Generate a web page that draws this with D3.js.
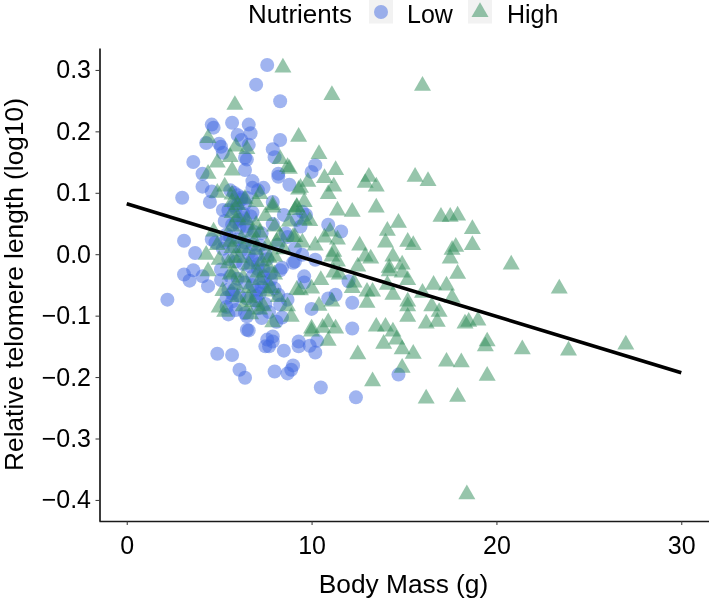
<!DOCTYPE html>
<html><head><meta charset="utf-8">
<script src="https://cdn.jsdelivr.net/npm/d3@7"></script>
<style>html,body{margin:0;padding:0;background:#fff}svg{display:block;filter:blur(0.45px)}text{font-family:"Liberation Sans",Arial,sans-serif;fill:#000}</style>
</head><body><svg id="c" width="709" height="600"></svg>
<script>
const xTicks=[0,10,20,30];
const yTicks=[-0.4,-0.3,-0.2,-0.1,0,0.1,0.2,0.3];
const trendMass=[0,30];
const trendTelomere=[0.082,-0.193];
const lowMass=[7.6,7.0,8.3,4.6,4.7,5.7,6.6,6.7,6.0,6.2,4.3,5.0,5.1,6.6,8.3,7.9,8.0,5.2,3.6,6.4,6.5,6.4,4.1,8.2,8.2,8.8,6.8,4.1,4.6,3.0,4.5,6.8,7.4,7.1,7.9,6.5,6.0,5.2,
3.1,3.7,3.1,3.6,3.4,4.1,4.4,2.2,4.9,5.7,6.1,6.4,8.0,8.7,8.9,9.0,8.5,7.5,7.7,7.9,7.6,7.9,6.6,6.5,5.5,6.5,7.3,8.3,8.7,8.4,8.1,9.3,9.3,5.4,5.8,5.7,5.5,5.1,5.1,4.8,4.6,5.3,6.1,5.9,6.3,6.5,6.8,7.1,7.4,6.8,7.0,7.2,7.4,7.7,7.0,7.4,7.8,8.4,8.3,9.0,8.7,8.6,8.2,9.1,9.5,
10.2,10.0,9.5,9.7,9.2,9.4,10.9,11.6,10.2,9.1,9.6,9.6,12.0,12.2,11.3,10.9,10.0,12.2,10.3,9.9,10.2,10.5,12.4,14.7,
5.6,5.8,6.0,6.2,6.4,5.5,5.9,6.3,6.7,5.3,5.7,6.1,6.5,6.9,5.4,5.6,6.0,6.4,6.8,7.2,5.2,5.8,6.2,6.6,7.0,7.5,5.5,5.9,6.3,6.7,7.1,7.6,5.6,6.0,6.4,6.8,7.3,7.8,5.7,6.1,6.5,7.0,7.5,8.0,5.4,5.9,6.4,7.1,7.7,8.2,5.8,6.2,6.8,7.3,7.9,8.5];
const lowTelomere=[0.308,0.276,0.249,0.211,0.206,0.214,0.211,0.197,0.194,0.186,0.181,0.18,0.175,0.178,0.186,0.171,0.158,0.165,0.15,0.157,0.154,0.137,0.131,0.131,0.126,0.113,0.119,0.11,0.102,0.092,0.085,0.108,0.108,0.104,0.085,0.092,0.08,0.072,
0.022,0.002,-0.033,-0.026,-0.043,-0.036,-0.052,-0.074,-0.162,-0.164,-0.188,-0.201,-0.191,-0.194,-0.188,-0.181,-0.157,-0.15,-0.15,-0.142,-0.139,-0.134,-0.124,-0.123,-0.098,-0.101,-0.104,-0.082,-0.074,-0.103,-0.11,-0.142,-0.15,-0.071,-0.058,-0.077,-0.058,-0.042,-0.025,0.019,0.024,0.02,0.056,0.052,0.059,0.046,-0.009,-0.016,-0.026,-0.036,-0.058,-0.064,-0.046,-0.053,-0.068,-0.036,-0.041,-0.022,-0.026,-0.014,0.028,0.034,0.016,0.009,-0.001,
0.145,0.134,0.069,0.064,0.056,0.045,0.048,0.037,-0.009,-0.012,-0.036,-0.046,-0.044,-0.079,-0.066,-0.072,-0.089,-0.121,-0.141,-0.149,-0.16,-0.217,-0.233,-0.196,
0.104,0.1,0.096,0.089,0.082,0.072,0.074,0.066,0.062,0.054,0.048,0.044,0.04,0.036,0.032,0.028,0.024,0.019,0.016,0.014,0.009,0.012,0.006,0.001,-0.002,0.002,-0.008,-0.012,-0.016,-0.02,-0.024,-0.008,-0.036,-0.04,-0.046,-0.05,-0.054,-0.031,-0.064,-0.068,-0.072,-0.076,-0.081,-0.056,-0.086,-0.091,-0.096,-0.088,-0.094,-0.066,0.079,0.092,0.068,0.034,0.049,0.064];
const highMass=[8.45,5.85,4.4,5.9,6.5,5.6,4.9,8.3,8.7,5.7,4.4,5.3,4.9,7.2,5.7,9.3,9.2,7.9,6.0,
5.7,7.9,9.1,5.7,8.8,8.0,5.7,4.7,7.2,6.8,9.0,8.1,4.9,5.7,6.3,7.0,4.3,5.0,5.8,7.7,6.6,7.7,4.4,5.8,5.6,6.3,8.0,7.2,7.6,9.2,6.6,5.0,6.3,5.3,7.2,6.7,7.9,8.7,8.9,
11.1,16.0,9.3,10.4,11.3,10.7,9.8,9.4,11.2,10.9,13.1,12.9,13.5,15.6,16.3,9.6,11.4,12.2,13.5,17.0,17.5,17.9,14.7,14.1,18.7,14.0,18.7,17.8,17.6,17.5,15.2,15.5,12.6,12.9,13.2,14.4,14.9,14.2,20.8,11.0,10.7,11.4,10.2,9.5,9.1,11.2,11.1,11.4,12.5,8.8,9.2,9.6,9.9,
17.9,17.3,16.6,17.6,16.0,14.9,15.2,14.2,14.4,14.1,13.0,13.3,13.0,15.2,15.2,15.2,16.5,16.9,16.8,16.2,18.3,18.5,19.0,19.5,19.4,21.4,19.5,18.1,17.3,17.9,16.2,18.4,15.5,14.9,14.9,13.3,12.5,13.9,14.6,14.4,14.0,13.5,10.9,11.3,10.9,10.6,10.0,10.0,11.1,10.4,9.4,10.0,10.5,11.2,11.5,12.2,12.3,23.4,23.9,27.0,
6.0,6.5,7.0,7.5,6.2,6.9,7.6,8.3,5.5,6.1,7.3,8.0,8.5,5.9,6.6,7.1,7.8,5.2,6.0,6.8,7.4,8.2,6.4,7.0,5.6];
const highTelomere=[0.304,0.243,0.189,0.175,0.171,0.158,0.149,0.155,0.142,0.136,0.131,0.11,0.1,0.098,0.097,0.105,0.077,0.08,0.08,
0.085,0.076,0.072,0.067,0.053,0.045,0.045,0.037,0.035,0.035,0.028,0.02,0.015,0.01,0.01,0.007,-0.001,-0.009,-0.006,-0.006,-0.017,-0.022,-0.028,-0.03,-0.033,-0.038,-0.033,-0.042,-0.061,-0.058,-0.071,-0.087,-0.085,-0.094,-0.09,-0.098,-0.111,-0.085,-0.102,
0.259,0.274,0.191,0.163,0.137,0.124,0.118,0.108,0.11,0.098,0.126,0.116,0.11,0.126,0.119,0.085,0.071,0.069,0.076,0.061,0.061,0.063,0.051,0.038,0.041,0.019,0.015,0.012,0.007,-0.007,0.02,0.015,0.014,-0.004,-0.007,-0.004,-0.017,-0.022,-0.017,0.037,0.027,0.024,0.014,0.019,0.028,0.004,-0.004,-0.012,-0.02,0.139,0.076,0.056,0.054,
-0.032,-0.051,-0.05,-0.071,-0.063,-0.03,-0.042,-0.028,-0.066,-0.05,-0.061,-0.061,-0.079,-0.077,-0.085,-0.102,-0.085,-0.094,-0.11,-0.113,-0.113,-0.11,-0.108,-0.142,-0.15,-0.155,-0.198,-0.176,-0.175,-0.232,-0.235,-0.391,-0.162,-0.155,-0.185,-0.207,-0.163,-0.146,-0.139,-0.126,-0.118,-0.118,-0.141,-0.121,-0.111,-0.12,-0.121,-0.126,-0.077,-0.084,-0.059,-0.056,-0.042,-0.03,-0.033,-0.055,-0.046,-0.056,-0.157,-0.147,
0.06,0.055,0.048,0.062,0.025,0.02,0.014,0.03,-0.015,-0.006,-0.012,-0.004,0.008,-0.05,-0.055,-0.03,-0.055,-0.06,-0.07,-0.078,-0.085,-0.07,0.09,0.085,0.02];

const svg=d3.select("#c");
const x=d3.scaleLinear().domain([-1.5,31.5]).range([99,709]);
const y=d3.scaleLinear().domain([-0.4343,0.3357]).range([521,48]);
const blue="#4169e1",green="#2e8b57";
const tri=d3.symbol().type(d3.symbolTriangle).size(125);

svg.append("g").selectAll("circle").data(lowMass).join("circle")
 .attr("cx",d=>x(d)).attr("cy",(d,i)=>y(lowTelomere[i])).attr("r",7)
 .attr("fill",blue).attr("fill-opacity",0.5);
svg.append("g").selectAll("path").data(highMass).join("path")
 .attr("d",tri).attr("transform",(d,i)=>`translate(${x(d)},${y(highTelomere[i])})`)
 .attr("fill",green).attr("fill-opacity",0.5);

svg.append("path").attr("d",d3.line().x(d=>x(d)).y((d,i)=>y(trendTelomere[i]))(trendMass))
 .attr("fill","none").attr("stroke","#000").attr("stroke-width",3.6);

const ax=svg.append("g").attr("transform","translate(0,521)").call(d3.axisBottom(x).tickValues(xTicks).tickFormat(d3.format("d")).tickSize(4).tickSizeOuter(0));
const ay=svg.append("g").attr("transform","translate(99.5,0)").call(d3.axisLeft(y).tickValues(yTicks).tickFormat(d=>d3.format(".1f")(d).replace("-","\u2212")).tickSize(4).tickSizeOuter(0));
[ax,ay].forEach(g=>{g.select("path").attr("stroke","#1a1a1a").attr("stroke-width",1.7);
 g.selectAll("line").attr("stroke","#333").attr("stroke-width",1);
 g.selectAll("text").style("font-size","25px").attr("fill","#000");});
ax.selectAll("text").attr("y",33).attr("dy",0);
ay.selectAll("text").attr("x",-8.5);

svg.append("text").attr("x",403.5).attr("y",593).attr("text-anchor","middle").style("font-size","26.3px").text("Body Mass (g)");
svg.append("text").attr("transform","translate(22.7,284.5) rotate(-90)").attr("text-anchor","middle").attr("textLength",373).attr("lengthAdjust","spacingAndGlyphs").style("font-size","25px").text("Relative telomere length (log10)");

const legend=svg.append("g");
const legendLabels=["Low","High"];
const keyX=[369,468],labelX=[407,507];
legend.append("text").attr("x",248).attr("y",22.7).attr("textLength",104).attr("lengthAdjust","spacingAndGlyphs").style("font-size","25px").text("Nutrients");
legend.selectAll("rect").data(legendLabels).join("rect").attr("x",(d,i)=>keyX[i]).attr("y",0).attr("width",24).attr("height",23.5).attr("fill","#f2f2f2");
legend.append("circle").attr("cx",381).attr("cy",12).attr("r",7).attr("fill",blue).attr("fill-opacity",0.5);
legend.append("path").attr("d",tri).attr("transform","translate(480,12)").attr("fill",green).attr("fill-opacity",0.5);
legend.selectAll(".lab").data(legendLabels).join("text").attr("class","lab").attr("x",(d,i)=>labelX[i]).attr("y",22.7).style("font-size","25px").text(d=>d);
</script></body></html>
